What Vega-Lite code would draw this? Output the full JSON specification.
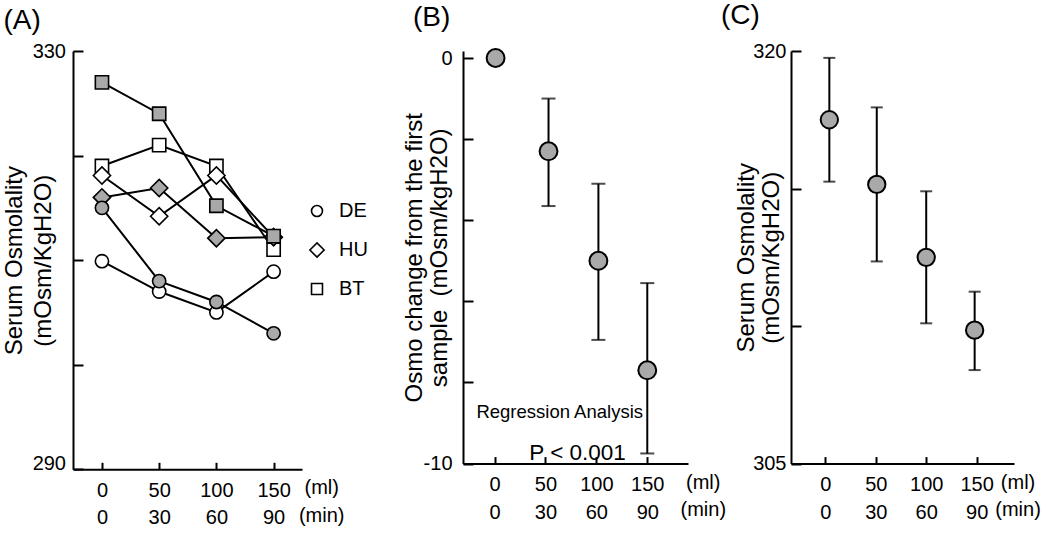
{
  "$schema": "https://vega.github.io/schema/vega-lite/v6.json",
  "background": "white",
  "padding": {"left": 2, "top": 2, "right": 0, "bottom": 0},
  "config": {
    "font": "Liberation Sans",
    "view": {"stroke": null},
    "axis": {
      "domainColor": "black", "domainWidth": 2, "tickColor": "black", "tickWidth": 2,
      "grid": false, "labelFont": "Liberation Sans", "labelFontSize": 20, "labelColor": "black",
      "titleFont": "Liberation Sans", "titleFontSize": 24, "titleFontWeight": "normal", "titleColor": "black",
      "labelOverlap": false, "labelFlush": false
    },
    "title": {"fontSize": 28, "fontWeight": "normal", "anchor": "start", "frame": "group", "font": "Liberation Sans", "color": "black"}
  },
  "datasets": {
    "A": [
      {"ml": 0, "osm": 319.0, "group": "BT", "type": "open", "id": "BTo"},
      {"ml": 50, "osm": 321.0, "group": "BT", "type": "open", "id": "BTo"},
      {"ml": 100, "osm": 319.0, "group": "BT", "type": "open", "id": "BTo"},
      {"ml": 150, "osm": 311.0, "group": "BT", "type": "open", "id": "BTo"},
      {"ml": 0, "osm": 318.1, "group": "HU", "type": "open", "id": "HUo"},
      {"ml": 50, "osm": 314.2, "group": "HU", "type": "open", "id": "HUo"},
      {"ml": 100, "osm": 318.1, "group": "HU", "type": "open", "id": "HUo"},
      {"ml": 150, "osm": 312.2, "group": "HU", "type": "open", "id": "HUo"},
      {"ml": 0, "osm": 316.0, "group": "HU", "type": "filled", "id": "HUf"},
      {"ml": 50, "osm": 316.9, "group": "HU", "type": "filled", "id": "HUf"},
      {"ml": 100, "osm": 312.1, "group": "HU", "type": "filled", "id": "HUf"},
      {"ml": 150, "osm": 312.2, "group": "HU", "type": "filled", "id": "HUf"},
      {"ml": 0, "osm": 327.0, "group": "BT", "type": "filled", "id": "BTf"},
      {"ml": 50, "osm": 324.0, "group": "BT", "type": "filled", "id": "BTf"},
      {"ml": 100, "osm": 315.2, "group": "BT", "type": "filled", "id": "BTf"},
      {"ml": 150, "osm": 312.3, "group": "BT", "type": "filled", "id": "BTf"},
      {"ml": 0, "osm": 309.9, "group": "DE", "type": "open", "id": "DEo"},
      {"ml": 50, "osm": 307.0, "group": "DE", "type": "open", "id": "DEo"},
      {"ml": 100, "osm": 305.0, "group": "DE", "type": "open", "id": "DEo"},
      {"ml": 150, "osm": 308.9, "group": "DE", "type": "open", "id": "DEo"},
      {"ml": 0, "osm": 315.0, "group": "DE", "type": "filled", "id": "DEf"},
      {"ml": 50, "osm": 308.0, "group": "DE", "type": "filled", "id": "DEf"},
      {"ml": 100, "osm": 306.0, "group": "DE", "type": "filled", "id": "DEf"},
      {"ml": 150, "osm": 303.0, "group": "DE", "type": "filled", "id": "DEf"}
    ],
    "A_units": [
      {"x": 192, "y": 288.18, "t": "(ml)"},
      {"x": 192, "y": 285.55, "t": "(min)"}
    ],
    "B": [
      {"ml": 1, "v": 0, "lo": null, "hi": null},
      {"ml": 53, "v": -2.3, "lo": -3.65, "hi": -1.0},
      {"ml": 102, "v": -5.0, "lo": -6.95, "hi": -3.1},
      {"ml": 150, "v": -7.7, "lo": -9.75, "hi": -5.55}
    ],
    "B_units": [
      {"x": 205, "y": -10.468, "t": "(ml)"},
      {"x": 205, "y": -11.146, "t": "(min)"}
    ],
    "C": [
      {"ml": 4, "v": 317.5, "lo": 315.25, "hi": 319.75},
      {"ml": 51, "v": 315.15, "lo": 312.35, "hi": 317.95},
      {"ml": 100, "v": 312.5, "lo": 310.1, "hi": 314.9},
      {"ml": 148, "v": 309.85, "lo": 308.4, "hi": 311.25}
    ],
    "C_units": [
      {"x": 191, "y": 304.31, "t": "(ml)"},
      {"x": 191, "y": 303.31, "t": "(min)"}
    ]
  },
  "spacing": 57,
  "hconcat": [
    {
      "width": 229, "height": 418.3,
      "title": {"text": "(A)", "dx": -69.5, "offset": 5.7},
      "layer": [
        {
          "data": {"name": "A"},
          "mark": {"type": "line", "color": "black", "strokeWidth": 2},
          "encoding": {
            "x": {"field": "ml", "type": "quantitative",
              "scale": {"domain": [-25.3, 174.8], "nice": false, "zero": false},
              "axis": {"values": [0, 50, 100, 150], "title": null, "tickSize": -7, "labelPadding": 18, "labelLineHeight": 27.5,
                "labelExpr": "datum.value == 0 ? ['0','0'] : datum.value == 50 ? ['50','30'] : datum.value == 100 ? ['100','60'] : ['150','90']"}},
            "y": {"field": "osm", "type": "quantitative",
              "scale": {"domain": [290, 330], "nice": false, "zero": false},
              "axis": {"values": [290, 300, 310, 320, 330], "tickSize": -10, "labelPadding": 17.5,
                "labelExpr": "datum.value == 330 ? '330' : datum.value == 290 ? '290' : ''",
                "labelBaseline": {"condition": {"test": "datum.value == 290", "value": "alphabetic"}, "value": "middle"},
                "title": ["Serum Osmolality", "(mOsm/KgH2O)"], "titleX": -58.7, "titleBaseline": "middle", "titleLineHeight": 29}},
            "detail": {"field": "id"}
          }
        },
        {
          "data": {"name": "A"},
          "mark": {"type": "point", "filled": true, "stroke": "black", "strokeWidth": 1.6, "size": 175, "opacity": 1},
          "encoding": {
            "x": {"field": "ml", "type": "quantitative"},
            "y": {"field": "osm", "type": "quantitative"},
            "shape": {"field": "group", "type": "nominal",
              "scale": {"domain": ["DE", "HU", "BT"], "range": ["circle", "M-1.3,0L0,-1.3L1.3,0L0,1.3Z", "square"]},
              "legend": {"orient": "none", "legendX": 234, "legendY": 150, "title": null, "padding": 0,
                "labelFontSize": 20, "labelColor": "black", "labelFont": "Liberation Sans",
                "symbolSize": 120, "symbolStrokeWidth": 1.6, "symbolStrokeColor": "black", "symbolFillColor": "white",
                "rowPadding": 18, "labelOffset": 12,
                "encode": {"symbols": {"update": {"fill": {"value": "white"}, "stroke": {"value": "black"}, "opacity": {"value": 1}}}}}},
            "fill": {"field": "type", "type": "nominal",
              "scale": {"domain": ["open", "filled"], "range": ["white", "#a9a9a9"]}, "legend": null}
          }
        },
        {
          "data": {"name": "A_units"},
          "mark": {"type": "text", "fontSize": 20, "align": "center", "baseline": "middle", "color": "black"},
          "encoding": {
            "x": {"field": "x", "type": "quantitative"},
            "y": {"field": "y", "type": "quantitative"},
            "text": {"field": "t"}
          }
        }
      ]
    },
    {
      "spacing": -6,
      "hconcat": [
        {
          "width": 225, "height": 412.6,
          "title": {"text": "(B)", "dx": -50, "offset": 12.7},
          "layer": [
            {
              "data": {"name": "B"},
              "mark": {"type": "errorbar", "color": "black", "ticks": {"size": 14, "thickness": 2}, "rule": {"strokeWidth": 2}},
              "encoding": {
                "x": {"field": "ml", "type": "quantitative",
                  "scale": {"domain": [-31, 190], "nice": false, "zero": false},
                  "axis": {"values": [0, 50, 100, 150], "title": null, "tickSize": -7, "labelPadding": 18, "labelLineHeight": 27.5,
                    "labelExpr": "datum.value == 0 ? ['0','0'] : datum.value == 50 ? ['50','30'] : datum.value == 100 ? ['100','60'] : ['150','90']"}},
                "y": {"field": "lo", "type": "quantitative",
                  "scale": {"domain": [-10, 0.1726], "nice": false, "zero": false},
                  "axis": {"values": [-10, -8, -6, -4, -2, 0], "tickSize": -10, "labelPadding": 21,
                    "labelExpr": "datum.value == 0 ? '0' : datum.value == -10 ? '-10' : ''",
                    "labelBaseline": "middle",
                    "title": ["Osmo change from the first", "sample\u00a0\u00a0(mOsm/kgH2O)"], "titleX": -49, "titleBaseline": "middle", "titleLineHeight": 25}},
                "y2": {"field": "hi"}
              }
            },
            {
              "data": {"name": "B"},
              "mark": {"type": "point", "filled": true, "fill": "#a9a9a9", "stroke": "black", "strokeWidth": 2, "size": 320, "opacity": 1},
              "encoding": {
                "x": {"field": "ml", "type": "quantitative"},
                "y": {"field": "v", "type": "quantitative"}
              }
            },
            {
              "data": {"values": [{"x": 64, "y": -8.73, "t": "Regression Analysis"}]},
              "mark": {"type": "text", "fontSize": 18.5, "align": "center", "baseline": "middle", "color": "black"},
              "encoding": {
                "x": {"field": "x", "type": "quantitative"},
                "y": {"field": "y", "type": "quantitative"},
                "text": {"field": "t"}
              }
            },
            {
              "data": {"values": [{"x": 129, "y": -9.75, "t": "P < 0.001"}]},
              "mark": {"type": "text", "fontSize": 22.5, "align": "right", "baseline": "middle", "color": "black"},
              "encoding": {
                "x": {"field": "x", "type": "quantitative"},
                "y": {"field": "y", "type": "quantitative"},
                "text": {"field": "t"}
              }
            },
            {
              "data": {"name": "B_units"},
              "mark": {"type": "text", "fontSize": 20, "align": "center", "baseline": "middle", "color": "black"},
              "encoding": {
                "x": {"field": "x", "type": "quantitative"},
                "y": {"field": "y", "type": "quantitative"},
                "text": {"field": "t"}
              }
            }
          ]
        },
        {
          "width": 223, "height": 412.6,
          "title": {"text": "(C)", "dx": -70, "offset": 10.7},
          "layer": [
            {
              "data": {"name": "C"},
              "mark": {"type": "errorbar", "color": "black", "ticks": {"size": 12, "thickness": 2}, "rule": {"strokeWidth": 2}},
              "encoding": {
                "x": {"field": "ml", "type": "quantitative",
                  "scale": {"domain": [-34, 187], "nice": false, "zero": false},
                  "axis": {"values": [0, 50, 100, 150], "title": null, "tickSize": -7, "labelPadding": 18, "labelLineHeight": 27.5,
                    "labelExpr": "datum.value == 0 ? ['0','0'] : datum.value == 50 ? ['50','30'] : datum.value == 100 ? ['100','60'] : ['150','90']"}},
                "y": {"field": "lo", "type": "quantitative",
                  "scale": {"domain": [305, 320], "nice": false, "zero": false},
                  "axis": {"values": [305, 310, 315, 320], "tickSize": -10, "labelPadding": 15,
                    "labelExpr": "datum.value == 320 ? '320' : datum.value == 305 ? '305' : ''",
                    "labelBaseline": "middle",
                    "title": ["Serum Osmolality", "(mOsm/KgH2O)"], "titleX": -44.7, "titleBaseline": "middle", "titleLineHeight": 25}},
                "y2": {"field": "hi"}
              }
            },
            {
              "data": {"name": "C"},
              "mark": {"type": "point", "filled": true, "fill": "#a9a9a9", "stroke": "black", "strokeWidth": 2, "size": 300, "opacity": 1},
              "encoding": {
                "x": {"field": "ml", "type": "quantitative"},
                "y": {"field": "v", "type": "quantitative"}
              }
            },
            {
              "data": {"name": "C_units"},
              "mark": {"type": "text", "fontSize": 20, "align": "center", "baseline": "middle", "color": "black"},
              "encoding": {
                "x": {"field": "x", "type": "quantitative"},
                "y": {"field": "y", "type": "quantitative"},
                "text": {"field": "t"}
              }
            }
          ]
        }
      ]
    }
  ]
}
